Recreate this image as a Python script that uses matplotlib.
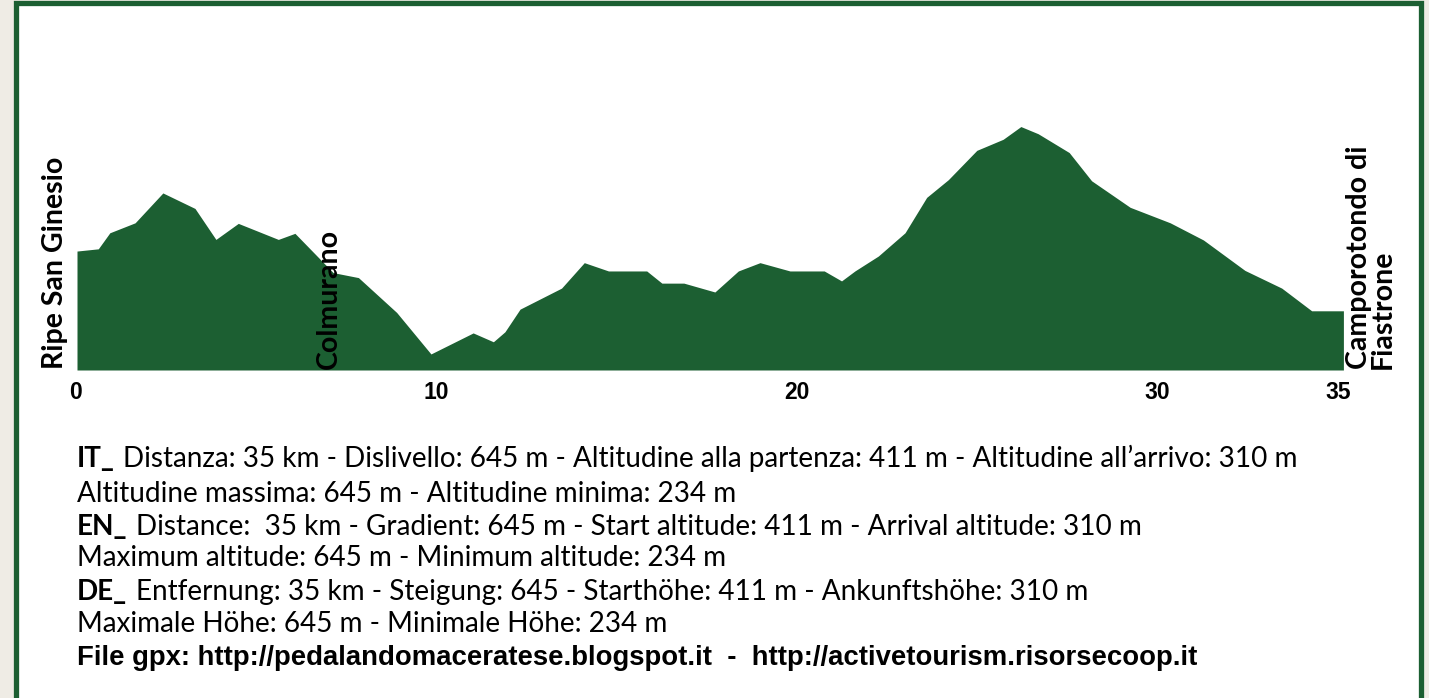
import matplotlib
matplotlib.use("Agg")
import matplotlib.pyplot as plt
from matplotlib.patches import Rectangle
from matplotlib.transforms import blended_transform_factory, offset_copy

# ---------------- data ----------------
km = [0.0, 0.59, 0.91, 1.61, 2.38, 3.27, 3.85, 4.47, 5.58, 6.04, 7.10, 7.80, 8.86,
      9.81, 10.98, 11.54, 11.86, 12.28, 13.43, 14.06, 14.73, 15.79, 16.21, 16.82,
      17.68, 18.33, 18.93, 19.76, 20.71, 21.19, 21.56, 22.21, 22.95, 23.55, 24.15,
      24.94, 25.67, 26.16, 26.64, 27.50, 28.12, 29.19, 30.30, 31.22, 32.37, 33.39,
      34.22, 35.10]
elev = [420, 424, 453, 471, 525, 497, 441, 470, 441, 452, 381, 372, 309,
        234, 272, 256, 274, 315, 353, 399, 384, 384, 362, 362,
        346, 384, 399, 384, 384, 366, 384, 411, 453, 517, 549,
        602, 622, 645, 632, 598, 547, 499, 471, 440, 385, 353,
        312, 312]
tick_km = [0, 10, 20, 30, 35]
tick_labels = ["0", "10", "20", "30", "35"]
places = ["Ripe San Ginesio", "Colmurano", "Camporotondo di\nFiastrone"]
place_km = [-0.62, 6.97, 35.85]

info_prefix = ["IT_", "", "EN_", "", "DE_", "", ""]
info_text = [
    "Distanza: 35 km - Dislivello: 645 m - Altitudine alla partenza: 411 m - Altitudine all\u2019arrivo: 310 m",
    "Altitudine massima: 645 m - Altitudine minima: 234 m",
    "Distance:  35 km - Gradient: 645 m - Start altitude: 411 m - Arrival altitude: 310 m",
    "Maximum altitude: 645 m - Minimum altitude: 234 m",
    "Entfernung: 35 km - Steigung: 645 - Starth\u00f6he: 411 m - Ankunftsh\u00f6he: 310 m",
    "Maximale H\u00f6he: 645 m - Minimale H\u00f6he: 234 m",
    "File gpx: http://pedalandomaceratese.blogspot.it  -  http://activetourism.risorsecoop.it",
]

# ---------------- style ----------------
W, H = 1429, 698
GREEN = "#1c5f32"
BG = "#efece5"
TXT_FONT = "Lato"

fig = plt.figure(figsize=(W / 100, H / 100), dpi=100, facecolor=BG)

def fx(px):
    return px / W

def fy(py):
    return 1 - py / H

# frame
fig.patches.append(Rectangle((fx(15.5), fy(720)), fx(1421) - fx(15.5), fy(2.5) - fy(720),
                             transform=fig.transFigure, facecolor="white",
                             edgecolor=GREEN, linewidth=3.8, zorder=-5))

# profile axes: x 0 -> px 77 ; 35.1 -> px 77 + 35.1*36.08
x_left, px_per_km = 77, 36.08
xmax = 35.1
y_bottom_px, y_top_px = 370, 100
ylow, yhigh = 205, 693
ax = fig.add_axes([fx(x_left), fy(y_bottom_px), (xmax * px_per_km) / W,
                   (y_bottom_px - y_top_px) / H])
ax.set_zorder(2)
ax.set_facecolor("none")
ax.fill_between(km, elev, ylow, color=GREEN, linewidth=0)
ax.set_xlim(0, xmax)
ax.set_ylim(ylow, yhigh)
for s in ax.spines.values():
    s.set_visible(False)
ax.set_yticks([])
ax.set_xticks([])

# tick labels drawn as text under the axis
tick_tr = offset_copy(blended_transform_factory(ax.transData, ax.transAxes),
                      fig=fig, x=-2, y=-11, units="dots")
for k, lab in zip(tick_km, tick_labels):
    ax.text(k, 0, lab, transform=tick_tr, ha="center", va="top",
            fontfamily="Liberation Sans", fontweight="bold", fontsize=16.5,
            clip_on=False)

for name, k in zip(places, place_km):
    ax.text(k, ylow + 2, name, rotation=90, ha="center", va="bottom",
            multialignment="left", fontsize=20.5, fontweight="bold",
            fontfamily="Lato", linespacing=0.9, color="black", clip_on=False)

# info text block
fig.canvas.draw()
r = fig.canvas.get_renderer()

def wpx(t):
    return t.get_window_extent(r).width

baselines = [467, 502, 535, 566, 600, 632, 665]
x0 = 77

def make_line(i, size, weight_rest="normal", family=TXT_FONT):
    arts = []
    x = x0
    if info_prefix[i]:
        p = fig.text(fx(x), fy(baselines[i]), info_prefix[i], fontsize=size,
                     fontweight="bold", fontfamily=family, va="baseline")
        arts.append(p)
        x += wpx(p) + 0.42 * size
    t = fig.text(fx(x), fy(baselines[i]), info_text[i], fontsize=size,
                 fontweight=weight_rest, fontfamily=family, va="baseline")
    arts.append(t)
    return arts, x + wpx(t)

arts, right = make_line(0, 16)
size_reg = 16 * (1305 - x0) / (right - x0)
for a in arts:
    a.remove()
arts, right = make_line(6, 16, "bold", "Liberation Sans")
size_bold = 16 * (1192 - x0) / (right - x0)
for a in arts:
    a.remove()

for i in range(7):
    if i == 6:
        make_line(i, size_bold, "bold", "Liberation Sans")
    else:
        make_line(i, size_reg)

fig.savefig("out.png", dpi=100, facecolor=BG)
